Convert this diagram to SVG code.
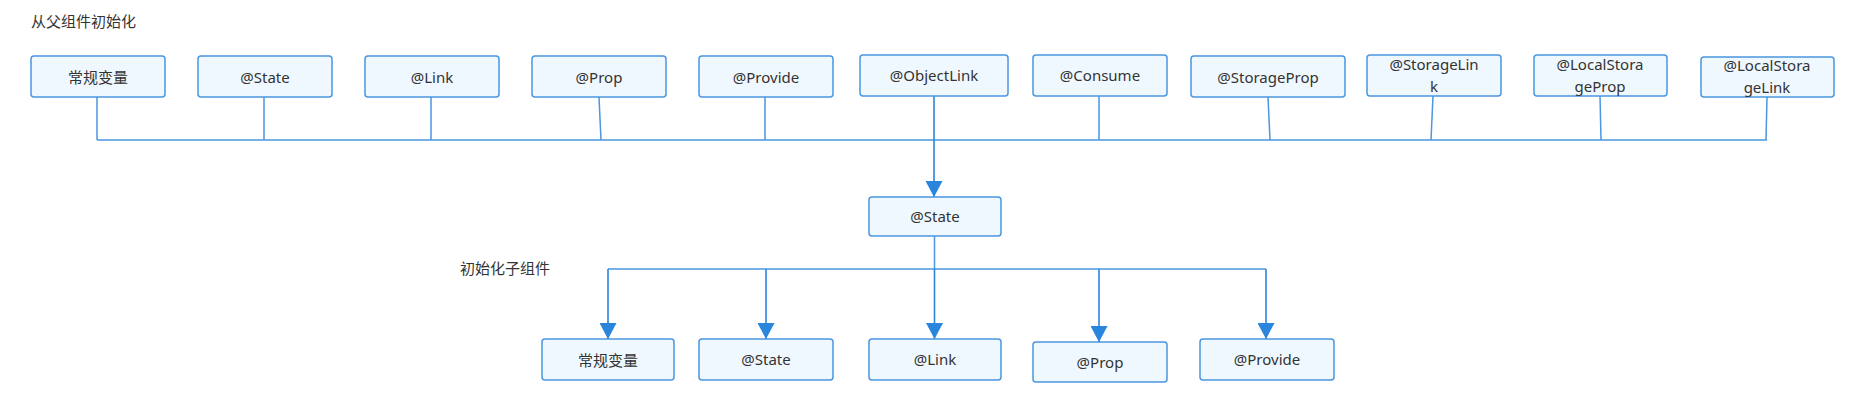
<svg xmlns="http://www.w3.org/2000/svg" width="1874" height="410" viewBox="0 0 1874 410">
<defs>
<style>
.bg{fill:#ffffff}
.box{fill:#f0f8ff;stroke:#4a96e0;stroke-width:1.5}
.t{font-family:"Noto Sans","Noto Sans CJK SC",sans-serif;font-size:15px;fill:#333333;text-anchor:middle;dominant-baseline:central}
.lbl{font-family:"Noto Sans CJK SC","Noto Sans",sans-serif;font-size:15px;fill:#333333;dominant-baseline:central}
.ln{fill:none;stroke:#4a96e0;stroke-width:1.5}
.arr{fill:none;stroke:#2a86dc;stroke-width:1.6}
</style>
<marker id="ah" viewBox="0 0 16 17" refX="16" refY="8.5" markerWidth="16" markerHeight="17" markerUnits="userSpaceOnUse" orient="auto">
<path d="M0,0 L16,8.5 L0,17 Z" fill="#2a86dc"/>
</marker>
</defs>
<rect class="bg" x="0" y="0" width="1874" height="410"/>
<text class="lbl" x="31" y="20">从父组件初始化</text>
<text class="lbl" x="460" y="267">初始化子组件</text>

<g id="connectors">
<path class="ln" d="M97,97 V140 M264,97 V140 M431,97 V140 M599,97 L601,140 M765,97 V140 M1099,96 V140 M1268,97 L1270,140 M1433,96 L1431,140 M1600,96 L1601,140 M1767,97 L1766,140 M97,140 H1767"/>
<path class="arr" d="M934,96 V197" marker-end="url(#ah)"/>
<path class="ln" d="M934.5,236 V269 M608,269 H1266"/>
<path class="arr" d="M608,269 V339" marker-end="url(#ah)"/>
<path class="arr" d="M766,269 V339" marker-end="url(#ah)"/>
<path class="arr" d="M934.5,269 V339" marker-end="url(#ah)"/>
<path class="arr" d="M1099,269 V342" marker-end="url(#ah)"/>
<path class="arr" d="M1266,269 V339" marker-end="url(#ah)"/>
</g>

<g id="p-normal"><rect class="box" x="31" y="56" width="134" height="41" rx="3"/><text class="t" x="98" y="76.5">常规变量</text></g>
<g id="p-state"><rect class="box" x="198" y="56" width="134" height="41" rx="3"/><text class="t" x="265" y="76.5">@State</text></g>
<g id="p-link"><rect class="box" x="365" y="56" width="134" height="41" rx="3"/><text class="t" x="432" y="76.5">@Link</text></g>
<g id="p-prop"><rect class="box" x="532" y="56" width="134" height="41" rx="3"/><text class="t" x="599" y="76.5">@Prop</text></g>
<g id="p-provide"><rect class="box" x="699" y="56" width="134" height="41" rx="3"/><text class="t" x="766" y="76.5">@Provide</text></g>
<g id="p-objectlink"><rect class="box" x="860" y="55" width="148" height="41" rx="3"/><text class="t" x="934" y="75">@ObjectLink</text></g>
<g id="p-consume"><rect class="box" x="1033" y="55" width="134" height="41" rx="3"/><text class="t" x="1100" y="75">@Consume</text></g>
<g id="p-storageprop"><rect class="box" x="1191" y="56" width="154" height="41" rx="3"/><text class="t" x="1268" y="76.5">@StorageProp</text></g>
<g id="p-storagelink"><rect class="box" x="1367" y="55" width="134" height="41" rx="3"/><text class="t" x="1434" y="64">@StorageLin</text><text class="t" x="1434" y="86">k</text></g>
<g id="p-lsprop"><rect class="box" x="1534" y="55" width="133" height="41" rx="3"/><text class="t" x="1600" y="64">@LocalStora</text><text class="t" x="1600" y="86">geProp</text></g>
<g id="p-lslink"><rect class="box" x="1701" y="57" width="133" height="40" rx="3"/><text class="t" x="1767" y="65">@LocalStora</text><text class="t" x="1767" y="87">geLink</text></g>

<g id="m-state"><rect class="box" x="869" y="197" width="132" height="39" rx="3"/><text class="t" x="935" y="215.5">@State</text></g>

<g id="c-normal"><rect class="box" x="542" y="339" width="132" height="41" rx="3"/><text class="t" x="608" y="359.5">常规变量</text></g>
<g id="c-state"><rect class="box" x="699" y="339" width="134" height="41" rx="3"/><text class="t" x="766" y="359">@State</text></g>
<g id="c-link"><rect class="box" x="869" y="339" width="132" height="41" rx="3"/><text class="t" x="935" y="359">@Link</text></g>
<g id="c-prop"><rect class="box" x="1033" y="342" width="134" height="40" rx="3"/><text class="t" x="1100" y="362">@Prop</text></g>
<g id="c-provide"><rect class="box" x="1200" y="339" width="134" height="41" rx="3"/><text class="t" x="1267" y="359">@Provide</text></g>
</svg>
